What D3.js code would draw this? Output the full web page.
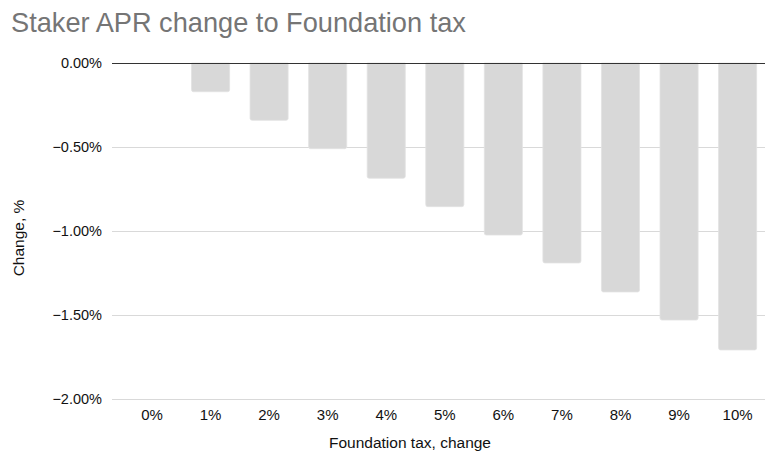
<!DOCTYPE html>
<html><head><meta charset="utf-8">
<script src="https://cdn.jsdelivr.net/npm/d3@7"></script>
<style>body{margin:0;background:#fff}svg{display:block}text{font-family:"Liberation Sans",Arial,sans-serif}</style>
</head><body><svg id="c" width="765" height="463"></svg>
<script>
const categories = ["0%","1%","2%","3%","4%","5%","6%","7%","8%","9%","10%"];
const values = [0, -0.171, -0.341, -0.51, -0.686, -0.855, -1.024, -1.19, -1.363, -1.53, -1.708];
const yTicks = [0, -0.5, -1.0, -1.5, -2.0];

const svg = d3.select("#c");
const x = d3.scaleBand().domain(categories).range([122.7, 766.9]).paddingInner(0.35).paddingOuter(0.175);
const y = d3.scaleLinear().domain([-2, 0]).range([399, 63]);

svg.append("text").attr("x", 11).attr("y", 32).attr("fill", "#757575").attr("font-size", 27.2).text("Staker APR change to Foundation tax");

// gridlines
svg.append("g").selectAll("line").data(yTicks.filter(d => d !== 0)).join("line")
  .attr("x1", 112).attr("x2", 765).attr("y1", d => y(d) + 0.5).attr("y2", d => y(d) + 0.5)
  .attr("stroke", "#d9d9d9").attr("stroke-width", 1);

// y labels
svg.append("g").selectAll("text").data(yTicks).join("text")
  .attr("x", 102).attr("y", d => y(d) + 5).attr("text-anchor", "end")
  .attr("font-size", 14.5).attr("fill", "#111").text(d => d3.format(".2f")(d) + "%");

// bars
function barPath(d) {
  const x0 = x(d.c), w = x.bandwidth(), y0 = y(0), y1 = y(d.v), r = 2;
  if (y1 - y0 < r) return "";
  return `M${x0},${y0}H${x0 + w}V${y1 - r}Q${x0 + w},${y1} ${x0 + w - r},${y1}H${x0 + r}Q${x0},${y1} ${x0},${y1 - r}Z`;
}
svg.append("g").selectAll("path").data(categories.map((c, i) => ({c, v: values[i]}))).join("path")
  .attr("d", barPath).attr("fill", "#d8d8d8").attr("stroke", "#e2e2e2").attr("stroke-width", 0.8);

// zero line
svg.append("line").attr("x1", 112).attr("x2", 765).attr("y1", y(0) + 0.5).attr("y2", y(0) + 0.5)
  .attr("stroke", "#333").attr("stroke-width", 1);

// x labels
svg.append("g").selectAll("text").data(categories).join("text")
  .attr("x", d => x(d) + x.bandwidth() / 2).attr("y", 420).attr("text-anchor", "middle")
  .attr("font-size", 15).attr("fill", "#111").text(d => d);

svg.append("text").attr("x", 410).attr("y", 448).attr("text-anchor", "middle").attr("font-size", 15.5).attr("fill", "#111").text("Foundation tax, change");
svg.append("text").attr("transform", "translate(23.5,238) rotate(-90)").attr("text-anchor", "middle").attr("font-size", 15.5).attr("fill", "#111").text("Change, %");
</script></body></html>
